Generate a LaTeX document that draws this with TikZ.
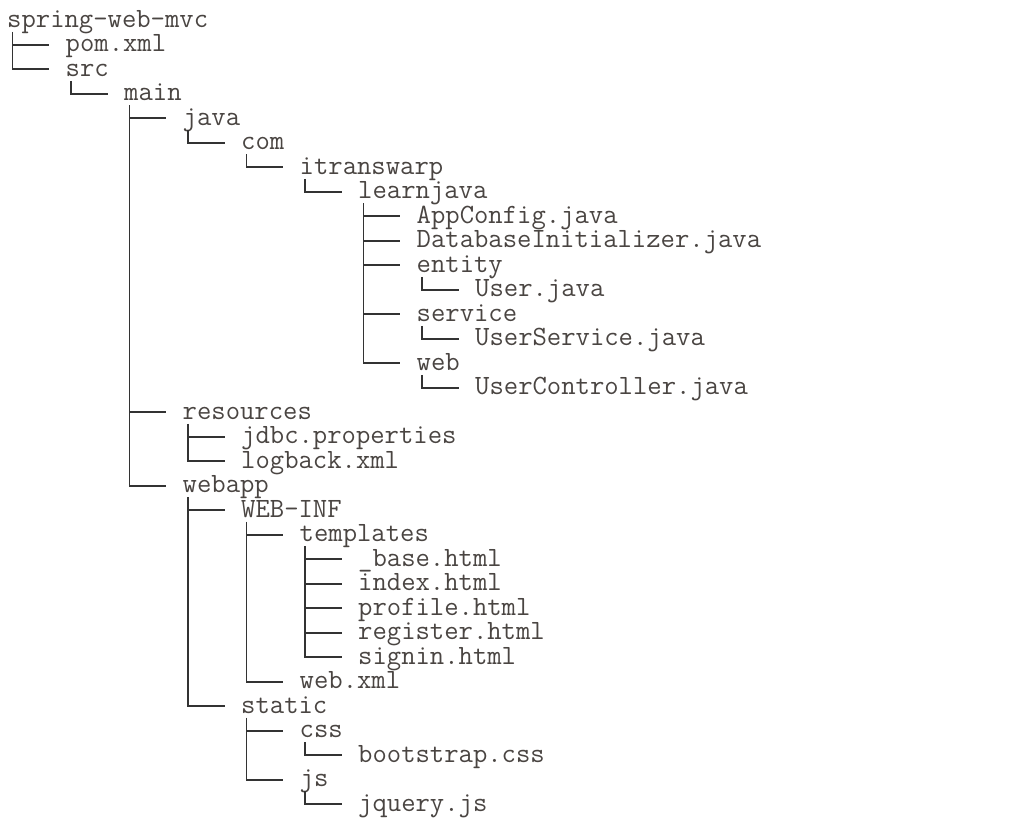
\documentclass[tikz,border=0pt]{standalone}
\usetikzlibrary{calc}
\definecolor{txt}{HTML}{4A4542}
\definecolor{ln}{HTML}{333333}
\tikzset{
  entry/.style={anchor=base west, inner sep=0pt, text=txt,
    font=\ttfamily\fontsize{27.87}{24.5}\selectfont},
  branch/.style={draw=ln, line width=1.9pt}
}
\begin{document}
\begin{tikzpicture}[x=1pt,y=-1pt]
\useasboundingbox (0,0) rectangle (1034,833);
% rows: index/level/name
\foreach \i/\l/\t in {
 0/0/spring-web-mvc,
 1/1/pom.xml,
 2/1/src,
 3/2/main,
 4/3/java,
 5/4/com,
 6/5/itranswarp,
 7/6/learnjava,
 8/7/AppConfig.java,
 9/7/DatabaseInitializer.java,
 10/7/entity,
 11/8/User.java,
 12/7/service,
 13/8/UserService.java,
 14/7/web,
 15/8/UserController.java,
 16/3/resources,
 17/4/jdbc.properties,
 18/4/logback.xml,
 19/3/webapp,
 20/4/WEB-INF,
 21/5/templates,
 22/6/\_base.html,
 23/6/index.html,
 24/6/profile.html,
 25/6/register.html,
 26/6/signin.html,
 27/5/web.xml,
 28/4/static,
 29/5/css,
 30/6/bootstrap.css,
 31/5/js,
 32/6/jquery.js}
 { \node[entry] (r\i) at ({7+58.5*\l},{27.3+24.5*\i}) {\t}; }
% parent/child connectors
\foreach \p/\c in {
 0/1, 0/2, 2/3, 3/4, 4/5, 5/6, 6/7,
 7/8, 7/9, 7/10, 10/11, 7/12, 12/13, 7/14, 14/15,
 3/16, 16/17, 16/18, 3/19,
 19/20, 20/21, 21/22, 21/23, 21/24, 21/25, 21/26, 20/27,
 19/28, 28/29, 29/30, 28/31, 31/32}
 { \draw[branch] ($(r\p.base west)+(5.5,4.5)$) |- ($(r\c.base west)+(-16.5,-7)$); }
\end{tikzpicture}
\end{document}
